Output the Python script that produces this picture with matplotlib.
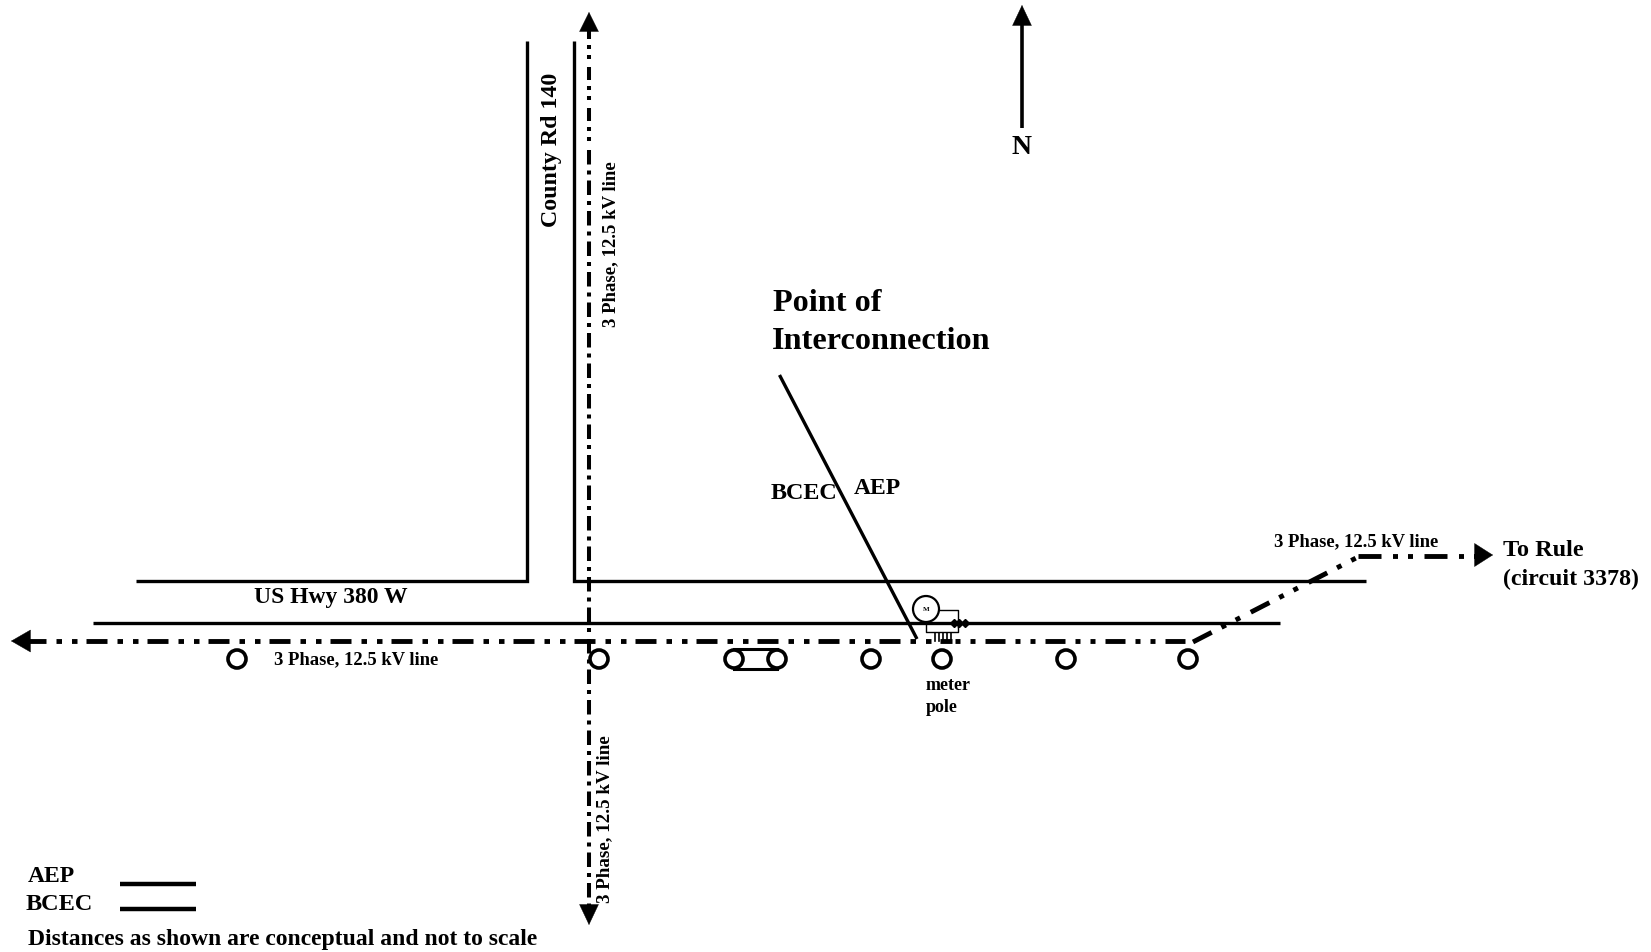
import matplotlib
matplotlib.use('Agg')
import matplotlib.pyplot as plt
from matplotlib.patches import Circle

plt.rcParams['font.family'] = ['Liberation Serif', 'DejaVu Serif']
plt.rcParams['font.weight'] = 'bold'
plt.rcParams['lines.scale_dashes'] = False

# everything below is in reference pixels
roads_x = [[136, 527, 527], [574, 574, 1366], [93, 1280]]
roads_y = [[582, 582, 42], [42, 582, 582], [624, 624]]

feeder_w_x = [28, 952]
feeder_w_y = [642, 642]
feeder_m_x = [954, 1190]
feeder_m_y = [642, 642]
feeder_d_x = [1193, 1358]
feeder_d_y = [643, 558]
feeder_e_x = [1358, 1478]
feeder_e_y = [557, 557]
feeder_n1_x = [588.5, 588.5]
feeder_n1_y = [30, 150]
feeder_n2_x = [588.5, 588.5]
feeder_n2_y = [150, 634]
feeder_s_x = [588.5, 588.5]
feeder_s_y = [640, 908]

# tip x, tip y, base x, base y, half width in px
arrows = [(11, 642, 30, 642, 11), (1493, 556, 1475, 556, 11.5), (589, 13, 589, 32, 9.5),
          (589, 926, 589, 906, 9.5), (1022, 6, 1022, 26, 9.5)]

poles_x = [237, 599, 871, 942, 1066, 1188]
poles_y = [660, 660, 660, 660, 660, 660]
xfmr_x = [734, 777]
xfmr_y = [660, 660]

poi_x = [779.5, 917]
poi_y = [376, 640]

north_x = [1022, 1022]
north_y = [24, 129]

legend_x = [120, 196]
legend_y = [885, 910]

v_labels = [
    ("County Rd 140", 551, 150, 17.2),
    ("3 Phase, 12.5 kV line", 611, 244, 13.5),
    ("3 Phase, 12.5 kV line", 605, 819, 13.7),
]
h_labels = [
    ("3 Phase, 12.5 kV line", 274, 660, 13.4),
    ("3 Phase, 12.5 kV line", 1274, 542, 13.4),
    ("US Hwy 380 W", 254, 598, 17),
    ("Point of", 773, 304, 23.2),
    ("Interconnection", 772, 342, 23.2),
    ("BCEC", 771, 494, 17.4),
    ("AEP", 854, 489, 17),
    ("meter", 926, 686, 13),
    ("pole", 926, 708, 13),
    ("To Rule", 1503, 551, 17.5),
    ("(circuit 3378)", 1503, 579, 17.2),
    ("N", 1011, 147, 20),
    ("AEP", 28, 877, 17),
    ("BCEC", 26, 905, 17.5),
    ("Distances as shown are conceptual and not to scale", 28, 940, 17.05),
]

PX = 0.72  # points per pixel at 100 dpi

def px_dash(offset, *seq):
    return (offset * PX, tuple(s * PX for s in seq))

fig = plt.figure(figsize=(16.51, 9.53), dpi=100)
ax = fig.add_axes([0, 0, 1, 1])
ax.set_xlim(0, 1651)
ax.set_ylim(953, 0)
ax.axis('off')

for x, y in zip(roads_x, roads_y):
    ax.plot(x, y, color='black', lw=2.4, solid_joinstyle='miter', solid_capstyle='butt')

# feeder lines, dash dot dot on the road, plain dash dot on most of the county rd
ddot = (21, 10, 5.5, 10, 5.5, 9)
ddot_m = (20, 10, 5, 10, 5, 10)
ddot_d = (21, 11, 5, 11, 5, 12)
ddot_e = (23, 11.5, 5, 10, 5, 11.5)
ddot_v = (13, 6, 4, 6, 4, 8)
sdot_v = (14.5, 6, 4, 6)

def feeder(x, y, lw, offset, seq):
    ax.plot(x, y, color='black', lw=lw, ls=px_dash(offset, *seq), dash_capstyle='butt')

feeder(feeder_w_x, feeder_w_y, 3.5, 3, ddot)
feeder(feeder_m_x, feeder_m_y, 3.5, 29, ddot_m)
feeder(feeder_d_x, feeder_d_y, 3.5, 0, ddot_d)
feeder(feeder_e_x, feeder_e_y, 3.5, 0, ddot_e)
feeder(feeder_n1_x, feeder_n1_y, 2.9, 3, ddot_v)
feeder(feeder_n2_x[::-1], feeder_n2_y[::-1], 2.9, 19.5, sdot_v)
feeder(feeder_s_x, feeder_s_y, 2.9, 0, sdot_v)

for tx, ty, bx, by, hw in arrows:
    length = abs(tx - bx) + abs(ty - by)
    ax.annotate('', xy=(tx, ty), xytext=(bx, by),
                arrowprops=dict(arrowstyle='-|>,head_length=%.1f,head_width=%.1f' % (length * PX, hw * PX),
                                color='black', lw=0.3, mutation_scale=1,
                                shrinkA=0, shrinkB=0))

ax.plot(north_x, north_y, color='black', lw=2.6, solid_capstyle='butt')
ax.plot(poi_x, poi_y, color='black', lw=2.4, solid_capstyle='butt')

for x, y in zip(poles_x, poles_y):
    ax.add_patch(Circle((x, y), 9, fill=False, ec='black', lw=2.6))

# fuse symbol between the poles
for x, y in zip(xfmr_x, xfmr_y):
    ax.add_patch(Circle((x, y), 9, fill=False, ec='black', lw=2.6))
ax.plot(xfmr_x, [650, 650], color='black', lw=2.2)
ax.plot(xfmr_x, [670, 670], color='black', lw=2.2)

# meter
ax.add_patch(Circle((926, 610), 13, fill=True, fc='white', ec='black', lw=1.6, zorder=4))
ax.text(926, 610, "M", fontsize=5, ha='center', va='center', zorder=5)
ax.plot([939, 958, 958], [611, 611, 628], color='black', lw=1.0)
ax.plot([926, 926, 958, 958], [625, 633, 633, 628], color='black', lw=1.0)
ax.plot([954, 959, 965], [624, 624, 624], color='black', lw=0, marker='D', ms=4.5)
for cx in [935, 939, 943, 947, 951]:
    ax.plot([cx, cx], [634, 642], color='black', lw=1.2)

for txt, x, y, size in v_labels:
    ax.text(x, y, txt, fontsize=size, rotation=90, ha='center', va='center')
for txt, x, y, size in h_labels:
    ax.text(x, y, txt, fontsize=size, ha='left', va='center')

for y in legend_y:
    ax.plot(legend_x, [y, y], color='black', lw=3.2, solid_capstyle='butt')

fig.savefig('out.png', dpi=100)
